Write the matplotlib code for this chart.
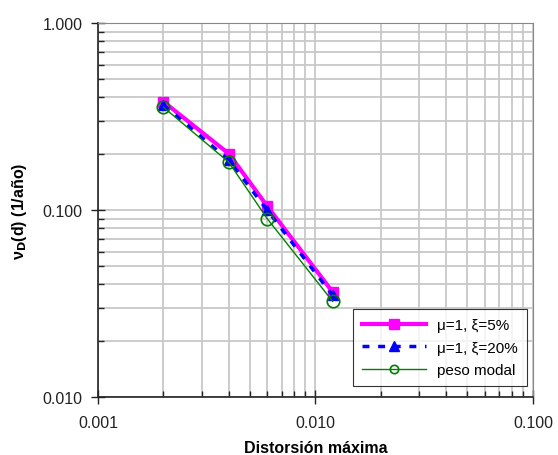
import matplotlib
matplotlib.use("Agg")
import matplotlib.pyplot as plt
from matplotlib.ticker import LogLocator, FixedLocator, NullFormatter

# datos
distorsion = [0.002, 0.004, 0.006, 0.012]
tasa_xi5 = [0.38, 0.20, 0.105, 0.0365]
tasa_xi20 = [0.365, 0.185, 0.100, 0.035]
tasa_modal = [0.355, 0.180, 0.090, 0.0325]

series_labels = ["μ=1, ξ=5%", "μ=1, ξ=20%", "peso modal"]
x_ticks = [0.001, 0.01, 0.1]
x_ticklabels = ["0.001", "0.010", "0.100"]
y_ticks = [0.01, 0.1, 1.0]
y_ticklabels = ["0.010", "0.100", "1.000"]

plt.rcParams['font.family'] = ['Liberation Sans', 'DejaVu Sans']

fig = plt.figure(figsize=(5.58, 4.56), dpi=100)
ax = fig.add_axes([0.1756, 0.127, 0.7794, 0.8202])

ax.plot(distorsion, tasa_xi5, color="#ff00ff", lw=3, marker="s", ms=7,
        mec="#ff00ff", mfc="#ff00ff", label=series_labels[0], zorder=3)
ax.plot(distorsion, tasa_xi20, color="#0000ff", lw=2.5, ls=(0, (2, 2.5)),
        marker="^", ms=7, mec="#0000ff", mfc="#0000ff", label=series_labels[1], zorder=4)
ax.plot(distorsion, tasa_modal, color="#008000", lw=1, marker="o", ms=9,
        mec="#008000", mfc="none", mew=1.2, label=series_labels[2], zorder=5)

ax.set_xscale("log")
ax.set_yscale("log")
ax.set_xlim(0.001, 0.1)
ax.set_ylim(0.01, 1.0)

ax.xaxis.set_major_locator(FixedLocator(x_ticks))
ax.yaxis.set_major_locator(FixedLocator(y_ticks))
ax.set_xticklabels(x_ticklabels)
ax.set_yticklabels(y_ticklabels)
ax.xaxis.set_minor_locator(LogLocator(base=10, subs=range(2, 10)))
ax.yaxis.set_minor_locator(LogLocator(base=10, subs=range(2, 10)))
ax.xaxis.set_minor_formatter(NullFormatter())
ax.yaxis.set_minor_formatter(NullFormatter())

ax.grid(True, which="both", color="#c8c8c8", lw=1.3, zorder=0)
ax.set_axisbelow(True)

ax.tick_params(which="major", direction="inout", length=10, width=1,
               labelsize=11.5, colors="#222222", pad=6)
ax.tick_params(which="minor", direction="in", length=4, width=1, colors="#222222")
ax.tick_params(axis="x", which="major", pad=8)

for side in ["top", "right"]:
    ax.spines[side].set_color("#888888")
for side in ["left", "bottom"]:
    ax.spines[side].set_color("#222222")
    ax.spines[side].set_linewidth(1.2)

ax.set_xlabel("Distorsión máxima", fontsize=11.5, fontweight="bold", labelpad=7)
ax.set_ylabel(r"ν$_{\mathbf{D}}$(d) (1/año)", fontsize=11.5, fontweight="bold", labelpad=10)

leg = ax.legend(loc="lower right", bbox_to_anchor=(0.986, 0.029), borderaxespad=0,
                fontsize=11, frameon=True, fancybox=False, edgecolor="black",
                handlelength=4.2, handletextpad=0.7, borderpad=0.6, labelspacing=0.55)
leg.get_frame().set_linewidth(0.8)
leg.legend_handles[2].set_markersize(6)

fig.savefig("out.png", dpi=100)
